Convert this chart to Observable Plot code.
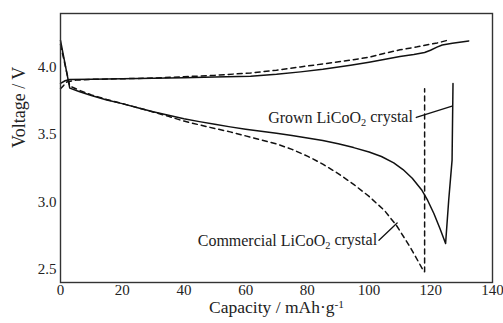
<!DOCTYPE html>
<html><head><meta charset="utf-8">
<script src="https://cdn.jsdelivr.net/npm/d3@7"></script>
<script src="https://cdn.jsdelivr.net/npm/@observablehq/plot@0.6"></script>
<style>body{margin:0;background:#fff;}</style>
</head><body><div id="chart"></div>
<script>
// Axis ticks
const xTicks = [0, 20, 40, 60, 80, 100, 120, 140];
const yTicks = [2.5, 3.0, 3.5, 4.0];
const xTitle = "Capacity / mAh·g-1";
const yTitle = "Voltage / V";

// Grown LiCoO2 crystal (solid)
const grownChargeCap = [0, 1.5, 3, 10, 20, 30, 40, 50, 61.6, 70, 77.8, 85, 94, 100, 104.8, 110, 114.5, 118, 119.9, 122, 123.7, 127, 132.3];
const grownChargeV   = [3.88, 3.90, 3.91, 3.912, 3.915, 3.918, 3.922, 3.927, 3.934, 3.948, 3.966, 3.985, 4.016, 4.038, 4.058, 4.08, 4.095, 4.11, 4.127, 4.15, 4.166, 4.178, 4.196];
const grownDischargeCap = [0, 3, 6, 10, 15, 20, 25, 30, 35, 40, 45, 50, 55, 60, 65, 70, 75, 80, 85, 90, 95, 100, 104, 108, 111, 114, 117, 119, 121, 123, 124.8, 125.8, 126.9, 127.2];
const grownDischargeV   = [4.20, 3.845, 3.82, 3.79, 3.757, 3.73, 3.70, 3.67, 3.643, 3.618, 3.596, 3.576, 3.557, 3.54, 3.524, 3.509, 3.493, 3.475, 3.455, 3.432, 3.403, 3.37, 3.337, 3.29, 3.24, 3.175, 3.09, 3.01, 2.913, 2.80, 2.69, 3.01, 3.31, 3.88];

// Commercial LiCoO2 crystal (dashed)
const commChargeCap = [0, 2, 5, 10, 20, 30, 40, 50, 61.6, 70, 77.8, 85, 94, 100, 104.8, 110, 115.6, 120, 122.1, 125.3];
const commChargeV   = [3.84, 3.89, 3.905, 3.91, 3.915, 3.92, 3.93, 3.94, 3.958, 3.978, 4.003, 4.025, 4.053, 4.075, 4.103, 4.13, 4.152, 4.172, 4.181, 4.20];
const commDischargeCap = [0, 3, 6, 10, 15, 20, 25, 30, 35, 40, 45, 50, 55, 60, 65, 70, 75, 80, 85, 90, 95, 100, 105, 109, 113.4, 117.8, 118, 118];
const commDischargeV   = [4.17, 3.86, 3.83, 3.795, 3.76, 3.73, 3.70, 3.668, 3.635, 3.60, 3.572, 3.545, 3.52, 3.49, 3.46, 3.43, 3.39, 3.34, 3.28, 3.21, 3.13, 3.04, 2.935, 2.82, 2.66, 2.48, 2.48, 3.84];

// Annotations
const labelText = ["Grown LiCoO2 crystal", "Commercial LiCoO2 crystal"];
const labelCap = [114.2, 102.6];
const labelV = [3.622, 2.707];
const leaderGrownCap = [115.3, 126.9];
const leaderGrownV = [3.627, 3.711];
const leaderCommCap = [103.2, 109.1];
const leaderCommV = [2.714, 2.843];

const pts = (xs, ys) => xs.map((x, i) => ({x, y: ys[i]}));
const labels = labelText.map((t, i) => ({t, x: labelCap[i], y: labelV[i]}));
const ink = "#111";

const chart = Plot.plot({
  width: 503, height: 323,
  marginTop: 13, marginBottom: 41, marginLeft: 60, marginRight: 11,
  style: {fontFamily: "'Liberation Serif', 'Times New Roman', serif", fontSize: "15px", color: "#222", background: "#fff"},
  x: {domain: [0, 140]},
  y: {domain: [2.4, 4.4]},
  marks: [
    Plot.line(pts(grownChargeCap, grownChargeV), {x: "x", y: "y", stroke: ink, strokeWidth: 1.5}),
    Plot.line(pts(grownDischargeCap, grownDischargeV), {x: "x", y: "y", stroke: ink, strokeWidth: 1.5}),
    Plot.line(pts(commChargeCap, commChargeV), {x: "x", y: "y", stroke: ink, strokeWidth: 1.5, strokeDasharray: "5,4"}),
    Plot.line(pts(commDischargeCap, commDischargeV), {x: "x", y: "y", stroke: ink, strokeWidth: 1.5, strokeDasharray: "5,4"}),
    Plot.line(pts(leaderGrownCap, leaderGrownV), {x: "x", y: "y", stroke: ink, strokeWidth: 1.3}),
    Plot.line(pts(leaderCommCap, leaderCommV), {x: "x", y: "y", stroke: ink, strokeWidth: 1.3}),
    Plot.text(labels, {x: "x", y: "y", text: "t", textAnchor: "end", fontSize: 16, fill: "#222"}),
    Plot.frame({stroke: "#333", strokeWidth: 1.4}),
    Plot.axisX({ticks: xTicks, tickSize: 0, tickPadding: 2, label: null, fontSize: 15}),
    Plot.axisY({ticks: yTicks, tickSize: 0, tickPadding: 4, label: null, fontSize: 15, tickFormat: d => d.toFixed(1)}),
    Plot.text([xTitle], {frameAnchor: "bottom", dy: 30.5, fontSize: 17.5, fill: "#222"}),
    Plot.text([yTitle], {frameAnchor: "left", dx: -41, rotate: -90, fontSize: 18, fill: "#222"})
  ]
});

// subscript / superscript styling on the text
function rich(el, re, cls) {
  const s = el.textContent;
  const m = s.match(re);
  if (!m) return;
  const before = s.slice(0, m.index), mid = m[2], after = s.slice(m.index + m[0].length);
  const NS = "http://www.w3.org/2000/svg";
  el.textContent = "";
  const a = document.createElementNS(NS, "tspan"); a.textContent = before + m[1]; el.appendChild(a);
  const b = document.createElementNS(NS, "tspan"); b.textContent = mid;
  b.setAttribute("font-size", "0.65em");
  b.setAttribute("dy", cls === "sub" ? "0.3em" : "-0.45em");
  el.appendChild(b);
  const c = document.createElementNS(NS, "tspan"); c.textContent = after;
  c.setAttribute("dy", cls === "sub" ? "-0.3em" : "0.45em");
  el.appendChild(c);
}
chart.querySelectorAll("text").forEach(el => {
  if (/LiCoO2/.test(el.textContent)) rich(el, /(LiCoO)(2)/, "sub");
  else if (/g-1$/.test(el.textContent)) rich(el, /(g)(-1)/, "sup");
});
document.getElementById("chart").appendChild(chart);
</script>
</body></html>
